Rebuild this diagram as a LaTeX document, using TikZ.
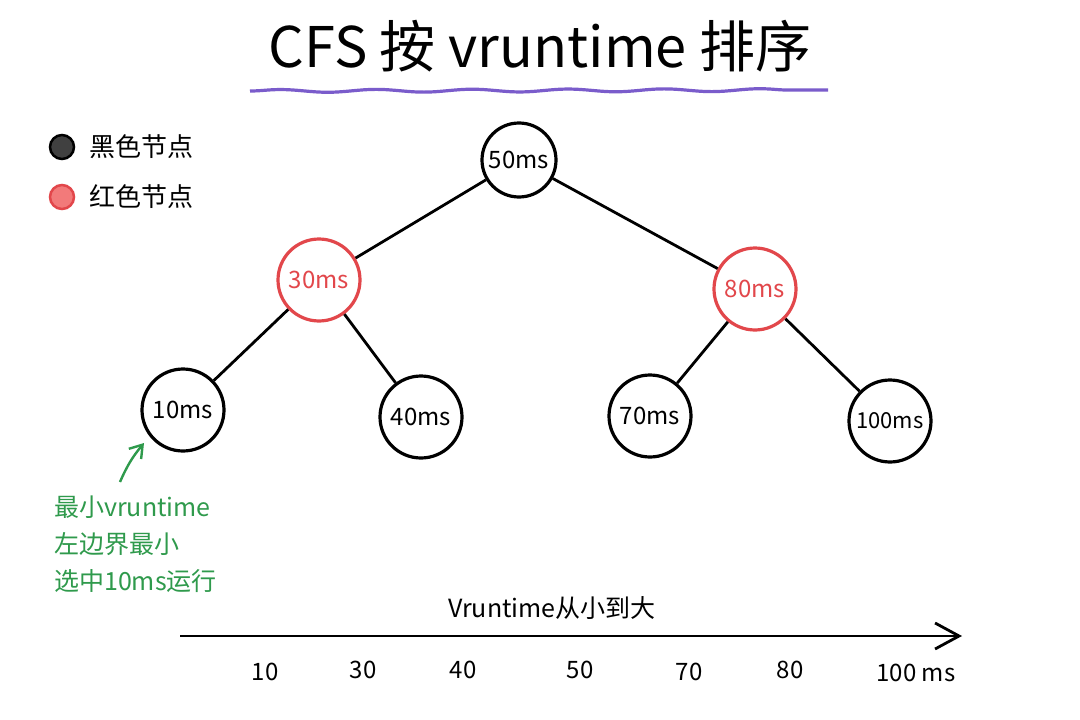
\documentclass[tikz,border=0pt]{standalone}
\usepackage{fontspec}
\setmainfont{Noto Sans CJK SC}
\usetikzlibrary{calc,decorations.pathmorphing,arrows.meta}
\definecolor{redline}{HTML}{E2474B}
\definecolor{redfill}{HTML}{F27A7A}
\definecolor{notegreen}{HTML}{2F9A4C}
\definecolor{wavepurple}{HTML}{7A5CCB}
\tikzset{
	tnode/.style={circle,draw=black,line width=3.2pt,minimum size=82pt,inner sep=0pt,font=\fontsize{24}{26}\selectfont},
	rnode/.style={tnode,draw=redline,text=redline},
	edge/.style={line width=2.8pt},
	ticklab/.style={font=\fontsize{24}{26}\selectfont},
}

\begin{document}
\begin{tikzpicture}[x=1pt,y=-1pt]
		\fill[white] (0,0) rectangle (1080,720);
		\useasboundingbox (0,0) rectangle (1080,720);
		\node[font=\fontsize{56}{60}\selectfont] (title) at (540,46) {CFS 按 vruntime 排序};
		\coordinate (wl) at (250,91);
		\coordinate (wr) at (828,90);
		\draw[wavepurple,line width=3.2pt,decorate,decoration={snake,amplitude=1.4pt,segment length=96pt}] (wl) -- (wr);
		\filldraw[fill=black!75,draw=black,line width=2.5pt] (62,147) circle (12pt);
		\node[anchor=west,font=\fontsize{26}{28}\selectfont] (blk) at (86,147) {黑色节点};
		\filldraw[fill=redfill,draw=redline,line width=2.5pt] (62,197) circle (12pt);
		\node[anchor=west,font=\fontsize{26}{28}\selectfont] (red) at (86,197) {红色节点};
		\node[tnode,minimum size=74pt] (n50) at (519,160) {50ms};
		\node[rnode] (n30) at (319,280) {30ms};
		\node[rnode] (n80) at (755,289) {80ms};
		\node[tnode] (n10) at (183,410) {10ms};
		\node[tnode] (n40) at (421,417) {40ms};
		\node[tnode] (n70) at (650,416) {70ms};
		\node[tnode,font=\fontsize{22}{24}\selectfont] (n100) at (890,421) {100ms};
		\draw[edge] (n50) -- (n30);
		\draw[edge] (n50) -- (n80);
		\draw[edge] (n30) -- (n10);
		\draw[edge] (n30) -- (n40);
		\draw[edge] (n80) -- (n70);
		\draw[edge] (n80) -- (n100);
		\coordinate (nt) at (120,482);
		\coordinate (na) at (144,443);
		\draw[notegreen,line width=2.4pt,-{Straight Barb[length=12pt,width=16pt]}] (nt) to[bend left=8] (na);
		\node[anchor=north west,align=left,inner sep=0pt,text=notegreen,font=\fontsize{25}{37}\selectfont] (note) at (54,496) {最小vruntime\\左边界最小\\选中10ms运行};
		\node[font=\fontsize{25}{28}\selectfont] (axlab) at (552,608) {Vruntime从小到大};
		\coordinate (ax0) at (180,636);
		\coordinate (ax1) at (962,636);
		\draw[line width=2.8pt,-{Straight Barb[length=24pt,width=26pt]}] (ax0) -- (ax1);
		\node[ticklab] (t10) at (265,672) {10};
		\node[ticklab] (t30) at (363,670) {30};
		\node[ticklab] (t40) at (463,670) {40};
		\node[ticklab] (t50) at (580,670) {50};
		\node[ticklab] (t70) at (689,672) {70};
		\node[ticklab] (t80) at (790,670) {80};
		\node[ticklab] (t100) at (916,673) {100 ms};
	\end{tikzpicture}
\end{document}
